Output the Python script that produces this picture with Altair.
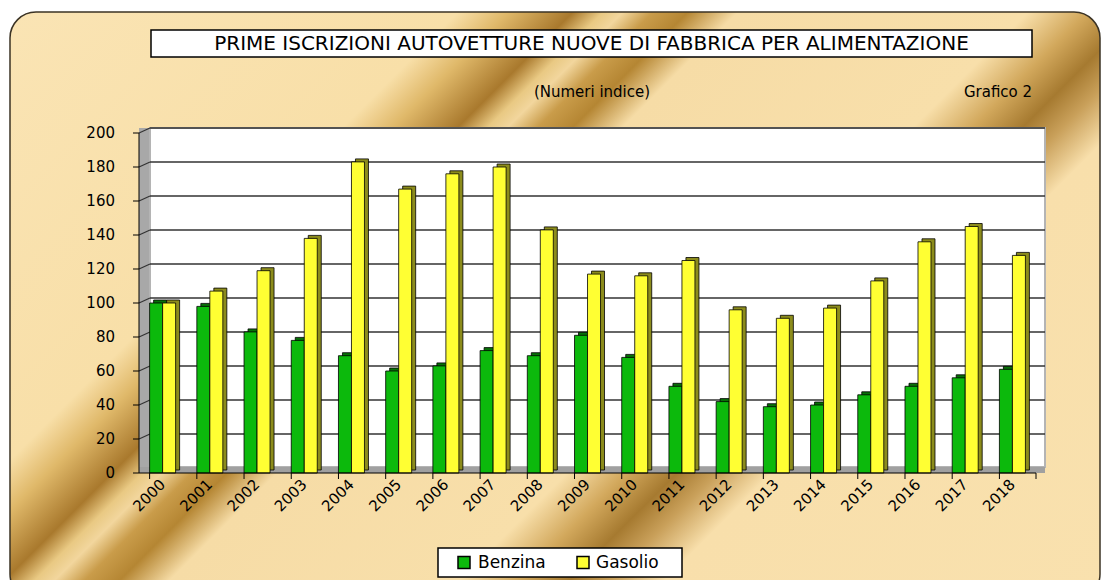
import altair as alt
import pandas as pd

# ---------------- data ----------------
years = [str(y) for y in range(2000, 2019)]
series = ["Benzina", "Gasolio"]
benzina = [100, 98, 83, 78, 69, 60, 63, 72, 69, 81, 68, 51, 42, 39, 40, 46, 51, 56, 61]
gasolio = [100, 107, 119, 138, 183, 167, 176, 180, 143, 117, 116, 125, 96, 91, 97, 113, 136, 145, 128]
y_ticks = [0, 20, 40, 60, 80, 100, 120, 140, 160, 180, 200]
grid_values = [20, 40, 60, 80, 100, 120, 140, 160, 180, 200]

title_text = "PRIME ISCRIZIONI AUTOVETTURE NUOVE DI FABBRICA PER ALIMENTAZIONE"
subtitle_text = "(Numeri indice)"
tag_text = "Grafico 2"

rows = []
for i, yr in enumerate(years):
    rows.append({"anno": yr, "serie": "Benzina", "valore": benzina[i]})
    rows.append({"anno": yr, "serie": "Gasolio", "valore": gasolio[i]})
df = pd.DataFrame(rows)
one = pd.DataFrame({"k": [0]})
df_years = pd.DataFrame({"anno": years})
df_yt = pd.DataFrame({"t": y_ticks})

FONT = "DejaVu Sans"
W, H = 897, 340

xscale = alt.Scale(domain=years, paddingInner=0.45, paddingOuter=0.225)
yscale = alt.Scale(domain=[0, 200], nice=False, zero=True)
front_colors = ["#0CB90C", "#FFFF33"]
side_colors = ["#087008", "#8C8C1C"]

# background gradient (diagonal golden streaks)
def stop(s, c):
    return alt.GradientStop(offset=round((s - 22) / 1678, 4), color=c)

grad = alt.LinearGradient(
    gradient="linear", x1=0, y1=0, x2=1.1925, y2=0.6433,
    stops=[
        stop(22, "#FAE4B4"),
        stop(470, "#F8DFA8"),
        stop(520, "#E0B96A"),
        stop(585, "#A9792D"),
        stop(615, "#E9C983"),
        stop(635, "#F2D69D"),
        stop(665, "#C99C4A"),
        stop(700, "#B58633"),
        stop(750, "#F6DCA6"),
        stop(1040, "#F8DFAA"),
        stop(1100, "#D2A85C"),
        stop(1150, "#A67A30"),
        stop(1190, "#C9A05A"),
        stop(1245, "#F8DFAB"),
        stop(1700, "#F9E1AE"),
    ],
)

def box(x, x2, y, y2, **kw):
    return alt.Chart(one).mark_rect(**kw).encode(
        x=alt.value(x), x2=alt.value(x2), y=alt.value(y), y2=alt.value(y2)
    )

def label(x, y, txt, size, align="center"):
    return alt.Chart(one).mark_text(
        font=FONT, fontSize=size, color="black", align=align, baseline="middle"
    ).encode(x=alt.value(x), y=alt.value(y), text=alt.value(txt))

bg = box(-129, 961, -121, 467, fill=grad, stroke="#3b3325", strokeWidth=1.5, cornerRadius=26)
wall = box(0, 11, -5, H, fill="#A8A8A8")
plot_bg = box(11, 906, -5, H - 6, fill="white", stroke="#B4B4B4", strokeWidth=2)
floor = box(0, 906, H - 6, H, fill="#A0A0A0")

grid = alt.Chart(pd.DataFrame({"g": grid_values})).mark_rule(
    color="#333333", strokeWidth=1.5, yOffset=-5
).encode(
    y=alt.Y("g:Q", scale=yscale, axis=None),
    x=alt.value(11), x2=alt.value(906),
)
grid_wall = alt.Chart(pd.DataFrame({"g": grid_values})).mark_rule(
    color="#333333", strokeWidth=1.2, y2Offset=-5
).encode(
    y=alt.Y("g:Q", scale=yscale, axis=None),
    y2=alt.Y2("g:Q"),
    x=alt.value(0), x2=alt.value(11),
)

shadow = alt.Chart(df).mark_bar(stroke="black", strokeWidth=0.8, yOffset=-3, y2Offset=-3).encode(
    x=alt.X("anno:N", scale=xscale, axis=None),
    xOffset=alt.XOffset("serie:N", scale=alt.Scale(domain=series, range=[4, 30], paddingInner=0, paddingOuter=0)),
    y=alt.Y("valore:Q", scale=yscale, axis=None),
    fill=alt.Fill("serie:N", scale=alt.Scale(domain=series, range=side_colors), legend=None),
)

front = alt.Chart(df).mark_bar(stroke="black", strokeWidth=0.8).encode(
    x=alt.X("anno:N", scale=xscale, axis=None),
    xOffset=alt.XOffset("serie:N", scale=alt.Scale(domain=series, range=[0, 26], paddingInner=0, paddingOuter=0)),
    y=alt.Y("valore:Q", scale=yscale, axis=None),
    color=alt.Color("serie:N", scale=alt.Scale(domain=series, range=front_colors), legend=None),
)

# ---- axes drawn as marks (so that they sit above the background) ----
y_domain = alt.Chart(one).mark_rule(color="black", strokeWidth=1).encode(
    x=alt.value(0), y=alt.value(0), y2=alt.value(H)
)
y_tick_marks = alt.Chart(df_yt).mark_rule(color="black", strokeWidth=1).encode(
    y=alt.Y("t:Q", scale=yscale, axis=None), x=alt.value(-6), x2=alt.value(0)
)
y_labels = alt.Chart(df_yt).mark_text(
    font=FONT, fontSize=15, color="black", align="right", baseline="middle"
).encode(
    y=alt.Y("t:Q", scale=yscale, axis=None), x=alt.value(-24), text=alt.Text("t:Q")
)
x_domain = alt.Chart(one).mark_rule(color="black", strokeWidth=1).encode(
    y=alt.value(H), x=alt.value(0), x2=alt.value(W)
)
x_tick_marks = alt.Chart(df_years).mark_rule(color="black", strokeWidth=1).encode(
    x=alt.X("anno:N", scale=xscale, axis=None, bandPosition=0), y=alt.value(H), y2=alt.value(H + 6)
)
x_tick_end = alt.Chart(one).mark_rule(color="black", strokeWidth=1).encode(
    x=alt.value(W), y=alt.value(H), y2=alt.value(H + 6)
)
x_labels = alt.Chart(df_years).mark_text(
    font=FONT, fontSize=15, color="black", align="right", baseline="middle", angle=315
).encode(
    x=alt.X("anno:N", scale=xscale, axis=None), y=alt.value(H + 9), text=alt.Text("anno:N")
)

# ---- titles ----
title_box = box(12, 893, -103, -76, fill="white", stroke="black", strokeWidth=1.5)
title = label(452.5, -89.5, title_text, 20)
subtitle = label(453, -41, subtitle_text, 15)
tag = label(859, -41, tag_text, 15)

# ---- legend ----
legend_box = box(299, 543, 415, 444, fill="white", stroke="black", strokeWidth=1.5)
leg_parts = []
leg_sym_x = [319, 438]
leg_txt_x = [339, 457]
for i, s in enumerate(series):
    leg_parts.append(box(leg_sym_x[i], leg_sym_x[i] + 12, 423.5, 435.5,
                         fill=front_colors[i], stroke="black", strokeWidth=1.5))
    leg_parts.append(label(leg_txt_x[i], 429.5, s, 17, align="left"))

chart = alt.layer(
    bg, wall, plot_bg, floor, grid, grid_wall, shadow, front,
    y_domain, y_tick_marks, y_labels, x_domain, x_tick_marks, x_tick_end, x_labels,
    title_box, title, subtitle, tag, legend_box, *leg_parts
).resolve_scale(
    xOffset="independent"
).properties(
    width=W, height=H,
    padding={"left": 131, "top": 125, "right": 66, "bottom": 107},
    autosize=alt.AutoSizeParams(type="none"),
    background="white",
).configure_view(stroke=None)

chart.save("out.html", embed_options={"renderer": "svg", "actions": False})
